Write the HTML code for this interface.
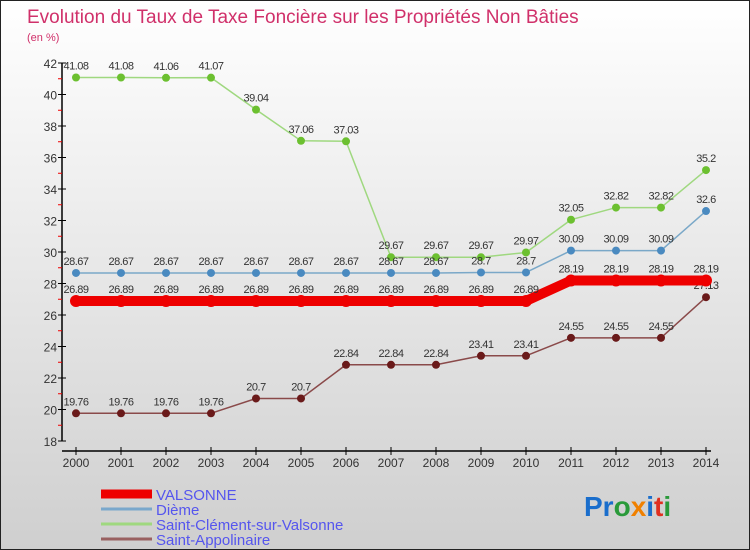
<!DOCTYPE html>
<html><head><meta charset="utf-8"><style>
body{margin:0}
#c{width:750px;height:550px;position:relative;background:linear-gradient(#ffffff,#cfcfcf);box-sizing:border-box;border:1px solid #222;overflow:hidden;font-family:"Liberation Sans",sans-serif}
svg text{font-family:"Liberation Sans",sans-serif}
</style></head><body>
<div id="c">
<svg width="750" height="550" id="s">
<text x="26" y="22" font-size="19" fill="#d0306a">Evolution du Taux de Taxe Foncière sur les Propriétés Non Bâties</text>
<text x="26" y="40" font-size="11" fill="#d0306a">(en %)</text>
<g id="g"></g>
<text x="583" y="515" font-size="28" font-weight="bold"><tspan fill="#1a6ecc">Pr</tspan><tspan fill="#2a9a3a">o</tspan><tspan fill="#f08000">x</tspan><tspan fill="#1a6ecc">i</tspan><tspan fill="#e03020">t</tspan><tspan fill="#2a9a3a">i</tspan></text>
</svg>
</div>
<script>
const years=["2000","2001","2002","2003","2004","2005","2006","2007","2008","2009","2010","2011","2012","2013","2014"];
const yTicks=[18,20,22,24,26,28,30,32,34,36,38,40,42];
const valsonne=[26.89,26.89,26.89,26.89,26.89,26.89,26.89,26.89,26.89,26.89,26.89,28.19,28.19,28.19,28.19];
const dieme=[28.67,28.67,28.67,28.67,28.67,28.67,28.67,28.67,28.67,28.7,28.7,30.09,30.09,30.09,32.6];
const stclement=[41.08,41.08,41.06,41.07,39.04,37.06,37.03,29.67,29.67,29.67,29.97,32.05,32.82,32.82,35.2];
const stappo=[19.76,19.76,19.76,19.76,20.7,20.7,22.84,22.84,22.84,23.41,23.41,24.55,24.55,24.55,27.13];
const names=["VALSONNE","Dième","Saint-Clément-sur-Valsonne","Saint-Appolinaire"];
const NS="http://www.w3.org/2000/svg";
const g=document.getElementById('g');
const X=i=>75+i*45, Y=v=>440-(v-18)*15.75;
function el(t,a,p){const e=document.createElementNS(NS,t);for(const k in a)e.setAttribute(k,a[k]);(p||g).appendChild(e);return e;}
let ax=el('path',{d:'M61,62V440M61,450H710',stroke:'#000','stroke-width':1.5,fill:'none'});


yTicks.forEach(v=>{
 el('line',{x1:57,x2:65,y1:Y(v),y2:Y(v),stroke:'#000'});
 if(v<42)el('line',{x1:57,x2:61,y1:Y(v+1),y2:Y(v+1),stroke:'#e00'});
 const t=el('text',{x:56,y:Y(v)+5,'font-size':12,'text-anchor':'end',fill:'#333'});t.textContent=v;
 
 
});
years.forEach((y,i)=>{
 el('line',{x1:X(i),x2:X(i),y1:446,y2:454,stroke:'#000'});
 const t=el('text',{x:X(i),y:466,'font-size':12,'text-anchor':'middle',fill:'#333'});t.textContent=y;
 
 
});
function series(d,col,w,r,dot,name,lab){
 const p=el('polyline',{points:d.map((v,i)=>X(i)+','+Y(v)).join(' '),fill:'none',stroke:col,'stroke-width':w,'stroke-linejoin':'round'});
 
 
 d.forEach((v,i)=>{
  const c=el('circle',{cx:X(i),cy:Y(v),r:r,fill:dot});
  
  
  const t=el('text',{x:X(i),y:Y(v)-8,'font-size':11,'text-anchor':'middle',fill:'#333','letter-spacing':'-0.5'});t.textContent=v;
  
  
 });
}
series(stappo,'#8a4a4a',1.5,4,'#6a1a1a','saint-appolinaire');
series(stclement,'#9fd87f',1.5,4,'#6cc030','saint-clement');
series(dieme,'#7aa8c8',1.5,4,'#4a8ac0','dieme');
series(valsonne,'#ee0000',10,6,'#ee0000','valsonne');
const lc=['#ee0000','#7aa8cc','#9fd87f','#996060'],lw=[9,3,3,3];
names.forEach((n,i)=>{
 const yy=493+i*15;
 const l=el('line',{x1:100,x2:151,y1:yy,y2:yy,stroke:lc[i],'stroke-width':lw[i]});
 
 
 const t=el('text',{x:155,y:yy+6,'font-size':15,fill:'#5555ee'});t.textContent=n;
 
 
});
</script>
</body></html>
